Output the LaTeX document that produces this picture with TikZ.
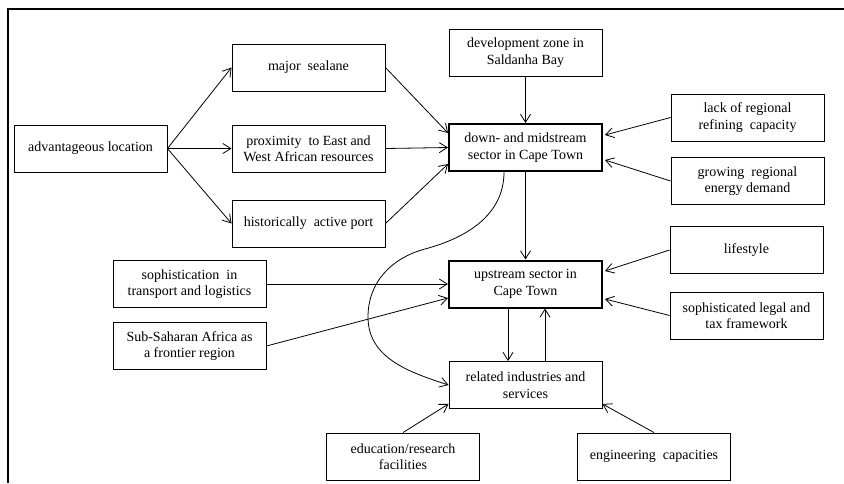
\documentclass[tikz,border=0pt]{standalone}
\usepackage{fontspec}
\setmainfont{Liberation Serif}
\newfontfamily\boxfont{Liberation Serif}
\usetikzlibrary{arrows.meta}
\begin{document}
\begin{tikzpicture}[x=1pt,y=-1pt,
  box/.style={draw,line width=0.9pt,minimum width=153pt,minimum height=47pt,inner sep=0pt,align=center,font=\boxfont\fontsize{14}{16.5}\selectfont},
  bold/.style={box,line width=2pt},
  arr/.style={line width=0.8pt,-{Straight Barb[length=8pt,width=10pt,line width=0.8pt]}}]
\useasboundingbox (0,0) rectangle (844,483);
\draw[line width=2pt] (8,483) -- (8,9) -- (844,9);
\node[box] (adv) at (90.5,148.5) {advantageous location};
\node[box] (sea) at (308.5,67.5) {major\ \ sealane};
\node[box] (prox) at (308.5,148.5) {proximity\ \ to East and\\West African resources};
\node[box] (port) at (308.5,223.5) {historically\ \ active port};
\node[box] (dev) at (525.5,52.5) {development zone in\\Saldanha Bay};
\node[bold] (down) at (525.5,147.5) {down- and midstream\\sector in Cape Town};
\node[box] (lack) at (747.5,117.5) {lack of regional\\refining\ \ capacity};
\node[box] (grow) at (747.5,181) {growing\ \ regional\\energy demand};
\node[box] (life) at (746.5,250) {lifestyle};
\node[bold] (up) at (525.5,284) {upstream sector in\\Cape Town};
\node[box] (legal) at (746.5,315.5) {sophisticated legal and\\tax framework};
\node[box] (rel) at (525.5,385) {related industries and\\services};
\node[box] (soph) at (189.5,284) {sophistication\ \ in\\transport and logistics};
\node[box] (sub) at (189.5,346) {Sub-Saharan Africa as\\a frontier region};
\node[box] (edu) at (403,456.5) {education/research\\facilities};
\node[box] (eng) at (654,456.5) {engineering\ \ capacities};
\draw[arr] (adv.east) -- (sea.west);
\draw[arr] (adv.east) -- (prox.west);
\draw[arr] (adv.east) -- (port.west);
\draw[arr] (sea.east) -- ([yshift=14.5pt]down.west);
\draw[arr] (prox.east) -- (down.west);
\draw[arr] (port.east) -- ([yshift=-16.5pt]down.west);
\draw[arr] (dev.south) -- (down.north);
\draw[arr] (lack.west) -- ([yshift=12.5pt,xshift=2pt]down.east);
\draw[arr] (grow.west) -- ([yshift=-12.5pt,xshift=2pt]down.east);
\draw[arr] (down.south) -- (up.north);
\draw[arr] (soph.east) -- (up.west);
\draw[arr] (sub.east) -- ([yshift=-14pt]up.west);
\draw[arr] (life.west) -- ([yshift=13pt,xshift=2pt]up.east);
\draw[arr] (legal.west) -- ([yshift=-15pt,xshift=2pt]up.east);
\draw[arr] ([xshift=-17.5pt]up.south) -- ([xshift=-17.5pt]rel.north);
\draw[arr] ([xshift=19.5pt]rel.north) -- ([xshift=19.5pt]up.south);
\draw[arr] (edu.north) -- ([yshift=5pt]rel.south west);
\draw[arr] (eng.north) -- ([yshift=5pt]rel.south east);
\draw[arr] ([xshift=-21.5pt]down.south) to[out=-90,in=15] (425,249) to[out=195,in=90] (368,317) to[out=-90,in=162] (rel.west);
\end{tikzpicture}
\end{document}
